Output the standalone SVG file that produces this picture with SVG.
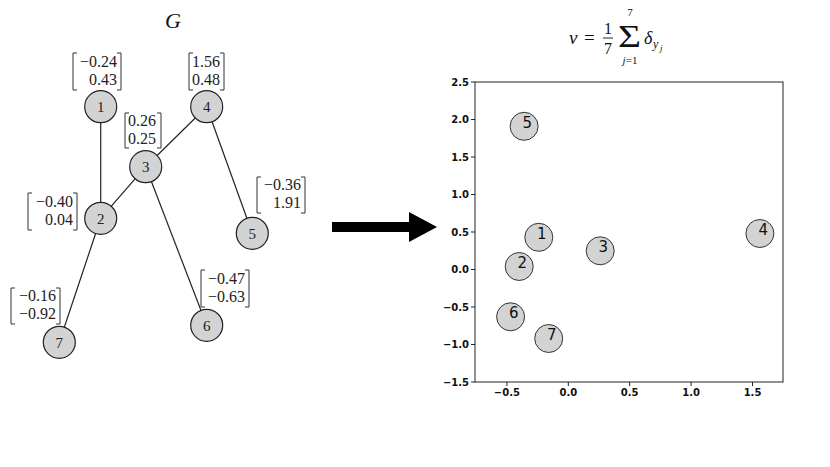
<svg xmlns="http://www.w3.org/2000/svg" width="830" height="467" viewBox="0 0 830 467">
<style>
.edge{stroke:#222;stroke-width:1.2;fill:none}
.node{fill:#d3d3d3;stroke:#222;stroke-width:1.2}
.nl{font-family:"Liberation Serif","DejaVu Serif",serif;font-size:15px;fill:#222;text-anchor:middle}
.m{font-family:"Liberation Serif","DejaVu Serif",serif;font-size:16px;fill:#222}
.br{stroke:#333;stroke-width:1;fill:none}
.pt{fill:#d3d3d3;stroke:#333;stroke-width:1}
.pl{font-family:"DejaVu Sans","Liberation Sans",sans-serif;font-size:15px;fill:#111}
.tk{font-family:"DejaVu Sans","Liberation Sans",sans-serif;font-size:10px;font-weight:bold;fill:#111}
.ax{stroke:#222;stroke-width:1;fill:none}
.f{font-family:"Liberation Serif","DejaVu Serif",serif;fill:#111}
</style>
<rect width="830" height="467" fill="#fff"/>
<text x="173" y="28" class="f" font-size="22" font-style="italic" text-anchor="middle">G</text>
<g id="connectors">
<line class="edge" x1="100.7" y1="106.7" x2="100.7" y2="218.3"/>
<line class="edge" x1="100.7" y1="218.3" x2="145.7" y2="166.7"/>
<line class="edge" x1="145.7" y1="166.7" x2="206.7" y2="106.7"/>
<line class="edge" x1="206.7" y1="106.7" x2="252.3" y2="233.3"/>
<line class="edge" x1="145.7" y1="166.7" x2="206.7" y2="325.3"/>
<line class="edge" x1="100.7" y1="218.3" x2="59.3" y2="342.3"/>
</g>
<g id="node1"><circle class="node" cx="100.7" cy="106.7" r="16"/><text class="nl" x="100.7" y="112">1</text>
<path class="br" d="M77,53H73V90H77M117,53H121V90H117"/><text class="m" x="117" y="67" text-anchor="end">−0.24</text><text class="m" x="117" y="85" text-anchor="end">0.43</text></g>
<g id="node2"><circle class="node" cx="100.7" cy="218.3" r="16"/><text class="nl" x="100.7" y="223.6">2</text>
<path class="br" d="M32,193H28V230H32M73,193H77V230H73"/><text class="m" x="73" y="207" text-anchor="end">−0.40</text><text class="m" x="73" y="225" text-anchor="end">0.04</text></g>
<g id="node3"><circle class="node" cx="145.7" cy="166.7" r="16"/><text class="nl" x="145.7" y="172">3</text>
<path class="br" d="M129,113H125V148H129M157,113H161V148H157"/><text class="m" x="128" y="126">0.26</text><text class="m" x="128" y="144">0.25</text></g>
<g id="node4"><circle class="node" cx="206.7" cy="106.7" r="16"/><text class="nl" x="206.7" y="112">4</text>
<path class="br" d="M193,53H189V90H193M220,53H224V90H220"/><text class="m" x="192" y="67">1.56</text><text class="m" x="192" y="85">0.48</text></g>
<g id="node5"><circle class="node" cx="252.3" cy="233.3" r="16"/><text class="nl" x="252.3" y="238.6">5</text>
<path class="br" d="M261,177H257V213H261M301,177H305V213H301"/><text class="m" x="301" y="190" text-anchor="end">−0.36</text><text class="m" x="301" y="208" text-anchor="end">1.91</text></g>
<g id="node6"><circle class="node" cx="206.7" cy="325.3" r="16"/><text class="nl" x="206.7" y="330.6">6</text>
<path class="br" d="M205,270H201V307H205M245,270H249V307H245"/><text class="m" x="245" y="284" text-anchor="end">−0.47</text><text class="m" x="245" y="302" text-anchor="end">−0.63</text></g>
<g id="node7"><circle class="node" cx="59.3" cy="342.3" r="16"/><text class="nl" x="59.3" y="347.6">7</text>
<path class="br" d="M15,288H11V324H15M56,288H60V324H56"/><text class="m" x="56" y="301" text-anchor="end">−0.16</text><text class="m" x="56" y="319" text-anchor="end">−0.92</text></g>
<g id="arrow"><polygon points="332,222 409,222 409,212 437,227 409,242 409,232 332,232" fill="#000"/></g>
<g id="formula">
<text x="569" y="44" class="f" font-size="19" font-style="italic">ν</text>
<text x="584" y="44" class="f" font-size="19">=</text>
<text x="608" y="34" class="f" font-size="16" text-anchor="middle">1</text>
<line x1="603" y1="38" x2="613" y2="38" stroke="#111" stroke-width="0.9"/>
<text x="608" y="54" class="f" font-size="16" text-anchor="middle">7</text>
<text x="618" y="46.5" class="f" font-size="31" textLength="23" lengthAdjust="spacingAndGlyphs">Σ</text>
<text x="630" y="16" class="f" font-size="11" text-anchor="middle">7</text>
<text x="630" y="64" class="f" font-size="11" text-anchor="middle"><tspan font-style="italic">j</tspan>=1</text>
<text x="644" y="44" class="f" font-size="18" font-style="italic">δ</text>
<text x="653" y="48" class="f" font-size="12" font-style="italic">y</text>
<text x="660" y="51" class="f" font-size="9" font-style="italic">j</text>
</g>
<g id="plot">
<rect class="ax" x="475" y="82" width="308" height="300"/>
<g stroke="#222" stroke-width="1">
<line x1="471" y1="82" x2="475" y2="82"/><line x1="471" y1="119.5" x2="475" y2="119.5"/><line x1="471" y1="157" x2="475" y2="157"/><line x1="471" y1="194.5" x2="475" y2="194.5"/><line x1="471" y1="232" x2="475" y2="232"/><line x1="471" y1="269.5" x2="475" y2="269.5"/><line x1="471" y1="307" x2="475" y2="307"/><line x1="471" y1="344.5" x2="475" y2="344.5"/><line x1="471" y1="382" x2="475" y2="382"/>
<line x1="506.9" y1="382" x2="506.9" y2="386"/><line x1="568.3" y1="382" x2="568.3" y2="386"/><line x1="629.7" y1="382" x2="629.7" y2="386"/><line x1="691.1" y1="382" x2="691.1" y2="386"/><line x1="752.5" y1="382" x2="752.5" y2="386"/>
</g>
<g class="tk" text-anchor="end">
<text x="469" y="85.5">2.5</text><text x="469" y="123">2.0</text><text x="469" y="160.5">1.5</text><text x="469" y="198">1.0</text><text x="469" y="235.5">0.5</text><text x="469" y="273">0.0</text><text x="469" y="310.5">−0.5</text><text x="469" y="348">−1.0</text><text x="469" y="385.5">−1.5</text>
</g>
<g class="tk" text-anchor="middle">
<text x="506.9" y="396">−0.5</text><text x="568.3" y="396">0.0</text><text x="629.7" y="396">0.5</text><text x="691.1" y="396">1.0</text><text x="752.5" y="396">1.5</text>
</g>
<circle class="pt" cx="538.8" cy="237.3" r="14"/><text class="pl" x="537" y="239">1</text>
<circle class="pt" cx="519.2" cy="266.5" r="14"/><text class="pl" x="517.5" y="268">2</text>
<circle class="pt" cx="600.2" cy="250.8" r="14"/><text class="pl" x="598.5" y="252">3</text>
<circle class="pt" cx="759.9" cy="233.5" r="14"/><text class="pl" x="758.5" y="235">4</text>
<circle class="pt" cx="524.1" cy="126.3" r="14"/><text class="pl" x="522.5" y="128">5</text>
<circle class="pt" cx="510.6" cy="316.8" r="14"/><text class="pl" x="509" y="318">6</text>
<circle class="pt" cx="548.7" cy="338.5" r="14"/><text class="pl" x="547" y="340">7</text>
</g>
</svg>
